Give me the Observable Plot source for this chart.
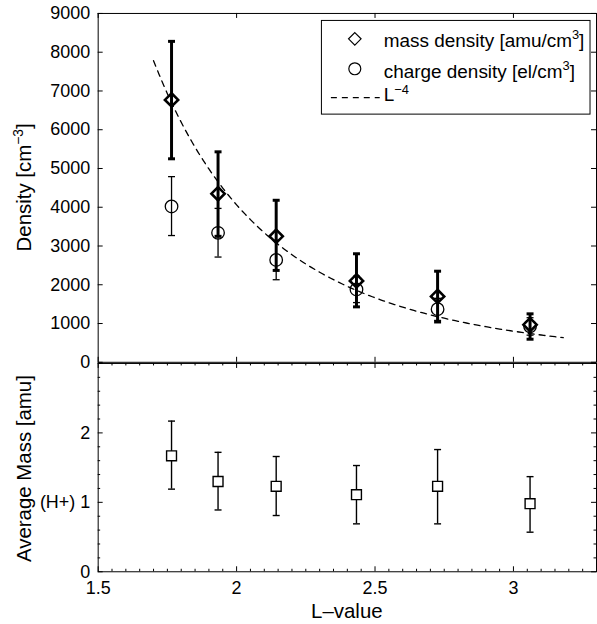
<!DOCTYPE html>
<html><head><meta charset="utf-8">
<script src="https://cdn.jsdelivr.net/npm/d3@7"></script>
<script src="https://cdn.jsdelivr.net/npm/@observablehq/plot@0.6"></script>
<style>
html,body{margin:0;padding:0;background:#fff;overflow:hidden}
#wrap{position:relative;width:597px;height:624px;overflow:hidden;background:#fff}
#wrap svg{position:absolute;left:0;background:transparent;overflow:visible}
</style></head><body><div id="wrap"></div>
<script>
// ---- data ----
const lValues       = [1.765, 1.933, 2.143, 2.433, 2.726, 3.06];
const massDensity   = [6770, 4350, 3250, 2100, 1700, 970];
const massLow       = [5250, 3250, 2370, 1430, 1040, 595];
const massHigh      = [8280, 5430, 4180, 2800, 2350, 1250];
const chargeDensity = [4020, 3340, 2640, 1880, 1370, 930];
const chargeLow     = [3270, 2715, 2130, 1540, 1080, 700];
const chargeHigh    = [4790, 3970, 3150, 2220, 1650, 1150];
const avgMass       = [1.67, 1.30, 1.23, 1.11, 1.23, 0.98];
const avgMassLow    = [1.19, 0.89, 0.81, 0.69, 0.69, 0.57];
const avgMassHigh   = [2.17, 1.72, 1.66, 1.53, 1.76, 1.37];
// L^-4 reference curve: coefficient and L range
const fitCoefficient = 65000;
const fitRange = [1.7, 3.18];
// ticks
const xDomain = [1.5, 3.3];
const xMajorTicks = [1.5, 2, 2.5, 3];
const xMinorTicks = d3.range(31, 66).map(k => +(k * 0.05).toFixed(2)).filter(v => !xMajorTicks.includes(v));
const yTopTicks = [0, 1000, 2000, 3000, 4000, 5000, 6000, 7000, 8000, 9000];
const yBotMajor = [0, 1, 2, 3];
const yBotMinor = d3.range(1, 15).map(k => +(k * 0.2).toFixed(2)).filter(v => !yBotMajor.includes(v));
const yBotLabels = [0, 1, 2];

const FONT = "'Liberation Sans', Arial, Helvetica, sans-serif";
const W = 599, ML = 98, MR = 1;
const innerW = W - ML - MR;

const rowsTop = lValues.map((L, i) => ({L, m: massDensity[i], mLo: massLow[i], mHi: massHigh[i],
  c: chargeDensity[i], cLo: chargeLow[i], cHi: chargeHigh[i]}));
const rowsBot = lValues.map((L, i) => ({L, a: avgMass[i], lo: avgMassLow[i], hi: avgMassHigh[i]}));
const curve = d3.range(fitRange[0], fitRange[1] + 1e-9, 0.01).map(L => ({L, v: fitCoefficient * Math.pow(L, -4)}));

const cap = half => ({draw(ctx) { ctx.moveTo(-half, 0); ctx.lineTo(half, 0); }});

function tickMarks(xMaj, xMin, yMaj, yMin, innerH) {
  const out = [];
  const L = 5, S = 2.5;
  const addX = (vals, len) => {
    out.push(Plot.tickX(vals, {x: d => d, insetTop: innerH - len, stroke: "black"}));
    out.push(Plot.tickX(vals, {x: d => d, insetBottom: innerH - len, stroke: "black"}));
  };
  const addY = (vals, len) => {
    out.push(Plot.tickY(vals, {y: d => d, insetRight: innerW - len, stroke: "black"}));
    out.push(Plot.tickY(vals, {y: d => d, insetLeft: innerW - len, stroke: "black"}));
  };
  addX(xMaj, L); if (xMin) addX(xMin, S);
  addY(yMaj, L); if (yMin) addY(yMin, S);
  return out;
}

// ---- top panel ----
const topH = 364, topMT = 13, topMB = 1;
const topPlot = Plot.plot({
  width: W, height: topH, marginLeft: ML, marginRight: MR, marginTop: topMT, marginBottom: topMB,
  style: {fontFamily: FONT, fontSize: "18px", background: "transparent", color: "black", overflow: "visible"},
  x: {domain: xDomain, axis: null, label: null},
  y: {domain: [0, 9000], axis: null, label: null},
  marks: [
    Plot.frame({stroke: "black", strokeWidth: 1}),
    ...tickMarks(xMajorTicks, null, yTopTicks, null, topH - topMT - topMB),
    Plot.axisY({ticks: yTopTicks, tickSize: 0, tickPadding: 8, tickFormat: d => String(d), fontSize: 18, label: null}),
    Plot.line(curve, {x: "L", y: "v", stroke: "black", strokeWidth: 1.3, strokeDasharray: "6,5"}),
    Plot.ruleX(rowsTop, {x: "L", y1: "cLo", y2: "cHi", stroke: "black", strokeWidth: 1.3}),
    Plot.dot(rowsTop, {x: "L", y: "cLo", symbol: cap(3.5), stroke: "black", strokeWidth: 1.3, fill: "none"}),
    Plot.dot(rowsTop, {x: "L", y: "cHi", symbol: cap(3.5), stroke: "black", strokeWidth: 1.3, fill: "none"}),
    Plot.dot(rowsTop, {x: "L", y: "c", r: 6.3, stroke: "black", strokeWidth: 1.3, fill: "none"}),
    Plot.ruleX(rowsTop, {x: "L", y1: "mLo", y2: "mHi", stroke: "black", strokeWidth: 3}),
    Plot.dot(rowsTop, {x: "L", y: "mLo", symbol: cap(3.5), stroke: "black", strokeWidth: 3, fill: "none"}),
    Plot.dot(rowsTop, {x: "L", y: "mHi", symbol: cap(3.5), stroke: "black", strokeWidth: 3, fill: "none"}),
    Plot.dot(rowsTop, {x: "L", y: "m", symbol: "diamond2", r: 6, stroke: "black", strokeWidth: 2.6, fill: "none"})
  ]
});
topPlot.style.top = "0px";

// ---- bottom panel ----
const botTop = 353, botH = 271, botMT = 10, botMB = 52;
const botPlot = Plot.plot({
  width: W, height: botH, marginLeft: ML, marginRight: MR, marginTop: botMT, marginBottom: botMB,
  style: {fontFamily: FONT, fontSize: "18px", background: "transparent", color: "black", overflow: "visible"},
  x: {domain: xDomain, axis: null, label: null},
  y: {domain: [0, 3], axis: null, label: null},
  marks: [
    Plot.frame({stroke: "black", strokeWidth: 1}),
    ...tickMarks(xMajorTicks, xMinorTicks, yBotMajor, yBotMinor, botH - botMT - botMB),
    Plot.axisY({ticks: yBotLabels, tickSize: 0, tickPadding: 8, tickFormat: d => d === 1 ? "(H+) 1" : String(d), fontSize: 18, label: null}),
    Plot.axisX({ticks: xMajorTicks, tickSize: 0, tickPadding: 10, tickFormat: d => String(d), fontSize: 18, label: null}),
    Plot.ruleX(rowsBot, {x: "L", y1: "lo", y2: "hi", stroke: "black", strokeWidth: 1.4}),
    Plot.dot(rowsBot, {x: "L", y: "lo", symbol: cap(3.5), stroke: "black", strokeWidth: 1.4, fill: "none"}),
    Plot.dot(rowsBot, {x: "L", y: "hi", symbol: cap(3.5), stroke: "black", strokeWidth: 1.4, fill: "none"}),
    Plot.dot(rowsBot, {x: "L", y: "a", symbol: "square", r: 5.6, stroke: "black", strokeWidth: 1.4, fill: "white"})
  ]
});
botPlot.style.top = botTop + "px";

const wrap = document.getElementById("wrap");
wrap.appendChild(botPlot);
wrap.appendChild(topPlot);

// ---- texts with superscripts, labels, legend ----
function supText(g, x, y, parts, size, anchor = "start", transform = null, raise = 0.4) {
  const t = g.append("text").attr("x", x).attr("y", y).attr("font-family", FONT)
    .attr("font-size", size).attr("text-anchor", anchor).attr("fill", "black");
  if (transform) t.attr("transform", transform);
  let raised = false;
  parts.forEach(([s, sup]) => {
    const span = t.append("tspan").text(s);
    if (sup && !raised) { span.attr("dy", -size * raise).attr("font-size", size * 0.68); raised = true; }
    else if (!sup && raised) { span.attr("dy", size * raise); raised = false; }
  });
  return t;
}
const topSel = d3.select(topPlot);
supText(topSel, 0, 0, [["Density [cm"], ["\u22123", true], ["]"]], 20.5, "middle", "translate(31,188) rotate(-90)");

// legend
const lg = topSel.append("g");
lg.append("rect").attr("x", 322.5).attr("y", 20.5).attr("width", 269.5).attr("height", 94)
  .attr("fill", "white").attr("stroke", "black").attr("stroke-width", 1);
lg.append("path").attr("d", d3.symbol(d3.symbolDiamond2, 100)()).attr("transform", "translate(356,39)")
  .attr("fill", "none").attr("stroke", "black").attr("stroke-width", 1.2);
lg.append("circle").attr("cx", 356).attr("cy", 69).attr("r", 6).attr("fill", "none").attr("stroke", "black").attr("stroke-width", 1.2);
lg.append("line").attr("x1", 332).attr("x2", 381).attr("y1", 98).attr("y2", 98)
  .attr("stroke", "black").attr("stroke-width", 1.3).attr("stroke-dasharray", "6,5");
supText(lg, 385, 47, [["mass density [amu/cm"], ["3", true], ["]"]], 19);
supText(lg, 385, 78, [["charge density [el/cm"], ["3", true], ["]"]], 19);
supText(lg, 385, 101, [["L"], ["\u22124", true]], 19, "start", null, 0.36);

const botSel = d3.select(botPlot);
botSel.append("text").attr("font-family", FONT).attr("font-size", 20.5).attr("text-anchor", "middle")
  .attr("transform", `translate(31,${469 - botTop}) rotate(-90)`).text("Average Mass [amu]");
botSel.append("text").attr("font-family", FONT).attr("font-size", 20.5).attr("text-anchor", "middle")
  .attr("x", 348).attr("y", 619 - botTop).text("L\u2013value");
</script></body></html>
